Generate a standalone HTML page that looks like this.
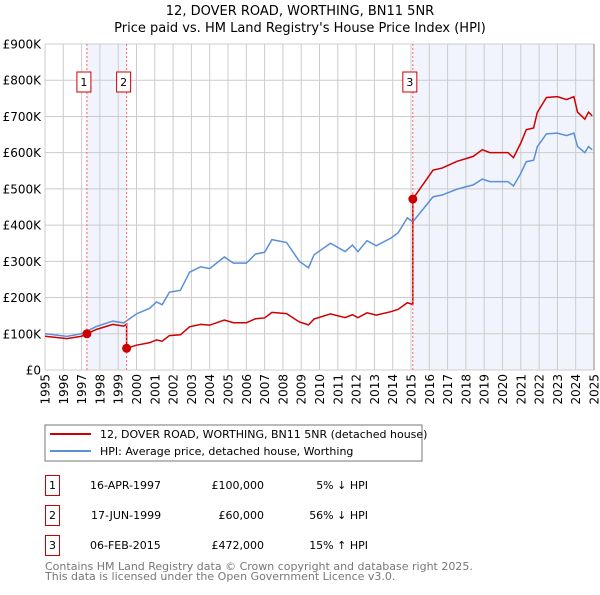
<!DOCTYPE html>
<html><head><meta charset="utf-8">
<style>
body{margin:0;background:#fff;}
svg text{font-family:"DejaVu Sans","Liberation Sans",sans-serif;fill:#000;}
</style></head>
<body>
<svg id="chart" width="600" height="590" viewBox="0 0 600 590" xmlns="http://www.w3.org/2000/svg">
<text x="300" y="15" text-anchor="middle" font-size="13">12, DOVER ROAD, WORTHING, BN11 5NR</text>
<text x="300" y="32" text-anchor="middle" font-size="13">Price paid vs. HM Land Registry's House Price Index (HPI)</text>
<g id="shade"></g>
<g id="grid"></g>
<g id="axes"></g>
<g id="series"></g>
<g id="markers"></g>

<rect x="45" y="425" width="377" height="36" fill="#fff" stroke="#777" stroke-width="1"/>
<line x1="50" y1="434" x2="91" y2="434" stroke="#cc0000" stroke-width="2"/>
<text x="100" y="438" font-size="11">12, DOVER ROAD, WORTHING, BN11 5NR (detached house)</text>
<line x1="50" y1="451" x2="91" y2="451" stroke="#5b8fd6" stroke-width="2"/>
<text x="100" y="455" font-size="11">HPI: Average price, detached house, Worthing</text>

<g font-size="11">
<rect x="45.5" y="475.5" width="14" height="20" fill="none" stroke="#cc0000"/>
<text x="52.5" y="489" text-anchor="middle">1</text>
<text x="90" y="489">16-APR-1997</text>
<text x="264" y="489" text-anchor="end">£100,000</text>
<text x="368" y="489" text-anchor="end">5% ↓ HPI</text>
<rect x="45.5" y="505.5" width="14" height="20" fill="none" stroke="#cc0000"/>
<text x="52.5" y="519" text-anchor="middle">2</text>
<text x="91" y="519">17-JUN-1999</text>
<text x="264" y="519" text-anchor="end">£60,000</text>
<text x="368" y="519" text-anchor="end">56% ↓ HPI</text>
<rect x="45.5" y="535.5" width="14" height="20" fill="none" stroke="#cc0000"/>
<text x="52.5" y="549" text-anchor="middle">3</text>
<text x="90" y="549">06-FEB-2015</text>
<text x="264" y="549" text-anchor="end">£472,000</text>
<text x="368" y="549" text-anchor="end">15% ↑ HPI</text>
</g>
<text x="45" y="570" font-size="11" style="fill:#777">Contains HM Land Registry data © Crown copyright and database right 2025.</text>
<text x="45" y="580" font-size="11" style="fill:#777">This data is licensed under the Open Government Licence v3.0.</text>
</svg>
<script>
const hpiYears = [1995,1996.2,1997,1997.8,1998.7,1999.3,2000,2000.7,2001.1,2001.4,2001.8,2002.4,2002.9,2003.5,2004,2004.8,2005.3,2006,2006.5,2007,2007.4,2008.2,2008.9,2009.4,2009.7,2010.6,2011.4,2011.8,2012.1,2012.6,2013.1,2013.9,2014.3,2014.8,2015.1,2016.2,2016.7,2017.5,2018.4,2018.9,2019.3,2019.9,2020.3,2020.6,2021.0,2021.3,2021.7,2021.9,2022.4,2023.0,2023.5,2023.9,2024.1,2024.5,2024.7,2024.9];
const hpiValues = [100,93,100,120,135,130,155,170,188,180,215,220,270,285,280,312,295,295,320,325,360,352,300,282,318,350,327,345,327,357,343,364,379,420,409,478,483,499,511,527,520,520,520,508,543,575,579,616,652,654,647,654,617,600,617,608];
const saleYears = [1997.29,1999.46,2015.1];
const salePrices = [100,60,472];
const saleLabels = ["1","2","3"];
const yTicks = [0,100,200,300,400,500,600,700,800,900];
const yTickLabels = ["£0","£100K","£200K","£300K","£400K","£500K","£600K","£700K","£800K","£900K"];
const xTicks = [1995,1996,1997,1998,1999,2000,2001,2002,2003,2004,2005,2006,2007,2008,2009,2010,2011,2012,2013,2014,2015,2016,2017,2018,2019,2020,2021,2022,2023,2024,2025];

const X0=45,X1=594,Y0=370,Y1=44;
const xs=y=>X0+(y-1995)/30*(X1-X0);
const ys=v=>Y0-v/900*(Y0-Y1);
const NS="http://www.w3.org/2000/svg";
function mk(tag,parent,attrs){const e=document.createElementNS(NS,tag);for(const k in attrs)e.setAttribute(k,attrs[k]);parent.appendChild(e);return e;}
function hpiAt(t){for(let i=0;i<hpiYears.length-1;i++){if(t>=hpiYears[i]&&t<=hpiYears[i+1]){const f=(t-hpiYears[i])/(hpiYears[i+1]-hpiYears[i]);return hpiValues[i]+f*(hpiValues[i+1]-hpiValues[i]);}}return hpiValues[hpiValues.length-1];}

const shade=document.getElementById('shade');
let r=mk('rect',shade,{x:xs(saleYears[0]),y:Y1,width:xs(saleYears[1])-xs(saleYears[0]),height:Y0-Y1,fill:'#f1f4fc'});


r=mk('rect',shade,{x:xs(saleYears[2]),y:Y1,width:X1-xs(saleYears[2]),height:Y0-Y1,fill:'#f1f4fc'});



const grid=document.getElementById('grid'),axes=document.getElementById('axes');
yTicks.forEach((v,i)=>{
  const l=mk('line',grid,{x1:X0,x2:X1,y1:ys(v),y2:ys(v),stroke:'#cccccc','stroke-width':1});
  
  
  const t=mk('text',axes,{x:41,y:ys(v)+4.5,'text-anchor':'end','font-size':12});
  t.textContent=yTickLabels[i];
  
  
});
xTicks.forEach(y=>{
  const l=mk('line',grid,{x1:xs(y),x2:xs(y),y1:Y1,y2:Y0,stroke:'#cccccc','stroke-width':1});
  
  
  const x=xs(y)+4.5;
  const t=mk('text',axes,{x:x,y:374,'text-anchor':'end','font-size':12,transform:'rotate(-90 '+x+' 374)'});
  t.textContent=String(y);
  
  
});
const rb=mk('line',grid,{x1:X1,x2:X1,y1:Y1,y2:Y0,stroke:'#888','stroke-width':1});



const ser=document.getElementById('series');
const hp=mk('polyline',ser,{points:hpiYears.map((y,i)=>xs(y)+','+ys(hpiValues[i])).join(' '),fill:'none',stroke:'#5b8fd6','stroke-width':1.5});



const ratios=saleYears.map((t,i)=>salePrices[i]/hpiAt(t));
const pts=[];
function ratioFor(t){let k=0;for(let i=0;i<saleYears.length;i++)if(t>=saleYears[i])k=i;return ratios[k];}
const allT=hpiYears.concat(saleYears).sort((a,b)=>a-b);
allT.forEach(t=>{
  const idx=saleYears.indexOf(t);
  if(idx>0){pts.push([t,hpiAt(t)*ratios[idx-1]]);}
  pts.push([t,hpiAt(t)*ratioFor(t)]);
});
const pl=mk('polyline',ser,{points:pts.map(p=>xs(p[0])+','+ys(p[1])).join(' '),fill:'none',stroke:'#cc0000','stroke-width':1.5});



const mg=document.getElementById('markers');
saleYears.forEach((t,i)=>{
  const l=mk('line',mg,{x1:xs(t),x2:xs(t),y1:Y1,y2:Y0,stroke:'#ff6666','stroke-width':1,'stroke-dasharray':'2,2'});
  
  
  const c=mk('circle',mg,{cx:xs(t),cy:ys(salePrices[i]),r:4.5,fill:'#cc0000'});
  
  
  const b=mk('rect',mg,{x:xs(t)-10,y:72,width:14,height:20,fill:'#fff',stroke:'#cc0000','stroke-width':1});
  
  
  const tx=mk('text',mg,{x:xs(t)-3,y:86,'text-anchor':'middle','font-size':11});
  tx.textContent=saleLabels[i];
  
  
});
</script>
</body></html>
